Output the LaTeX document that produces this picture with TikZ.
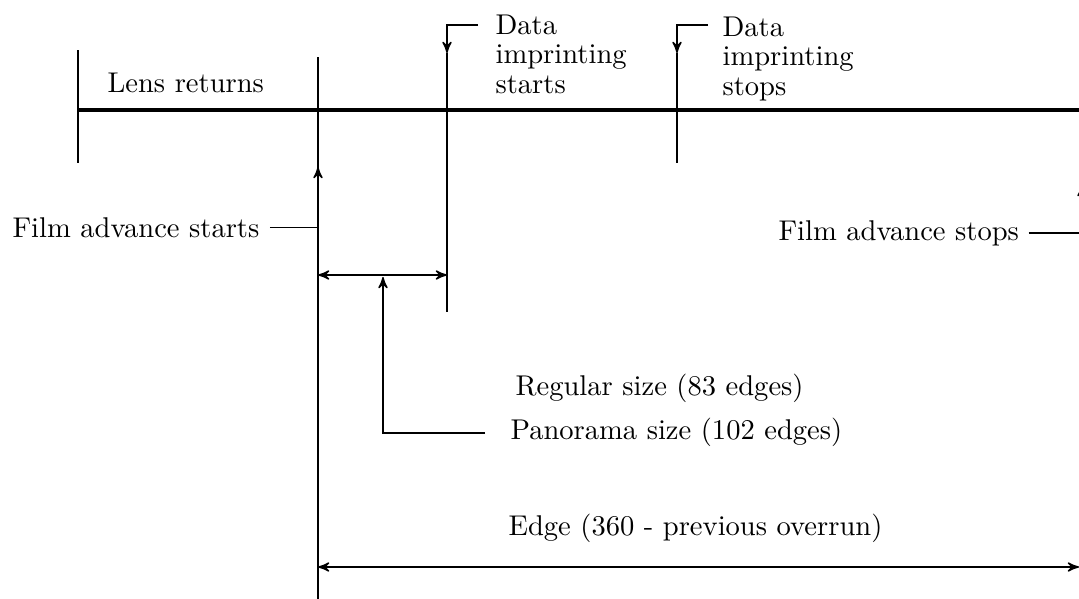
\documentclass[tikz,border=0pt]{standalone}
\usepackage{amsmath}
\usetikzlibrary{arrows,positioning,calc}
\begin{document}
\begin{tikzpicture}[x=0.35pt,y=-0.35pt,
  caption/.style={inner sep=0pt,font=\fontsize{10}{10.4}\selectfont},
  stack/.style={caption,align=left},
  timeline/.style={line width=1.4pt},
  marker/.style={line width=0.6pt},
  pointer/.style={line width=0.5pt,-stealth'},
  span/.style={line width=0.5pt,stealth'-stealth'}]
\useasboundingbox (0,0) rectangle (1079,599);

\coordinate (lensTop) at (78,50);
\coordinate (lensBot) at (78,163);
\coordinate (lineL) at (78,110);
\coordinate (lineR) at (1085,110);
\coordinate (startTop) at (318,57);
\coordinate (startBot) at (318,599);
\coordinate (startTip) at (318,167);
\coordinate (dataA) at (447,53);
\coordinate (dataAbot) at (447,312);
\coordinate (dataB) at (677,53);
\coordinate (dataBbot) at (677,163);
\coordinate (panoTip) at (383,277);
\coordinate (regL) at (318,275);
\coordinate (regR) at (447,275);
\coordinate (edgeL) at (318,567);
\coordinate (edgeR) at (1079,567);
\coordinate (stopTip) at (1082,185);

\node[caption,anchor=base west] (lens) at (107,92) {Lens returns};
\node[caption,anchor=base west] (fstart) at (12,237) {Film advance starts};
\node[caption,anchor=base west] (fstop) at (778,240) {Film advance stops};
\node[stack,anchor=north west] (dstart) at (495,14) {Data\\imprinting\\starts};
\node[stack,anchor=north west] (dstop) at (722,16) {Data\\imprinting\\stops};
\node[caption,anchor=base west] (regular) at (515,395) {Regular size (83 edges)};
\node[caption,anchor=base west] (pano) at (510,440) {Panorama size (102 edges)};
\node[caption,anchor=base west] (edge) at (508,535) {Edge (360 - previous overrun)};

\draw[timeline] (lineL) -- (lineR);
\draw[marker] (lensTop) -- (lensBot);
\draw[marker] (startTop) -- (startBot);
\draw[marker] (dataA) -- (dataAbot);
\draw[marker] (dataB) -- (dataBbot);

\draw[pointer] ($(dstart.north west)+(-17,11)$) -| (dataA);
\draw[pointer] ($(dstop.north west)+(-14,9)$) -| (dataB);
\draw[pointer] ($(fstart.east)+(10,0)$) -| (startTip);
\draw[pointer] ($(fstop.east)+(9,0)$) -| (stopTip);
\draw[pointer] ($(pano.west)+(-25,0)$) -| (panoTip);

\draw[span] (regL) -- (regR);
\draw[span] (edgeL) -- (edgeR);
\end{tikzpicture}
\end{document}
